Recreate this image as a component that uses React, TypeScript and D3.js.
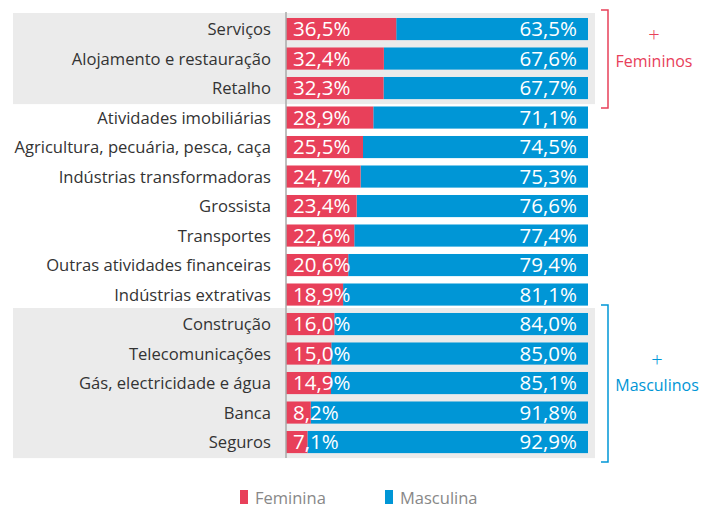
import { useEffect, useRef } from 'react';
import * as d3 from 'd3';

const categories = [
	'Serviços',
	'Alojamento e restauração',
	'Retalho',
	'Atividades imobiliárias',
	'Agricultura, pecuária, pesca, caça',
	'Indústrias transformadoras',
	'Grossista',
	'Transportes',
	'Outras atividades financeiras',
	'Indústrias extrativas',
	'Construção',
	'Telecomunicações',
	'Gás, electricidade e água',
	'Banca',
	'Seguros',
];
const feminina = [36.5, 32.4, 32.3, 28.9, 25.5, 24.7, 23.4, 22.6, 20.6, 18.9, 16.0, 15.0, 14.9, 8.2, 7.1];
const masculina = [63.5, 67.6, 67.7, 71.1, 74.5, 75.3, 76.6, 77.4, 79.4, 81.1, 84.0, 85.0, 85.1, 91.8, 92.9];
const seriesNames = ['Feminina', 'Masculina'];
const groups = [
	{ from: 0, to: 2, label: 'Femininos', color: '#e8405a', cx: 654 },
	{ from: 10, to: 14, label: 'Masculinos', color: '#0096d6', cx: 657 },
];

const RED = '#e8405a';
const BLUE = '#0096d6';
const FONT = '"Open Sans", sans-serif';

const App: React.FC = () => {
	const ref = useRef<SVGSVGElement>(null);

	useEffect(() => {
		if (!ref.current) return;
		const svg = d3.select(ref.current);
		svg.selectAll('*').remove();

		const x = d3.scaleLinear().domain([0, 100]).range([286, 588]);
		const y = d3
			.scaleBand<string>()
			.domain(categories)
			.range([14.3, 456.8])
			.paddingInner(0.25)
			.paddingOuter(0.125);
		const bw = y.bandwidth();

		// grey highlight bands
		groups.forEach((gr) => {
			const top = (y(categories[gr.from]) ?? 0) - 5;
			const bottom = (y(categories[gr.to]) ?? 0) + bw + 5;
			svg.append('rect')
				.attr('x', 13)
				.attr('y', top)
				.attr('width', 595 - 13)
				.attr('height', bottom - top)
				.attr('fill', '#ebebeb');
		});

		const rows = svg
			.append('g')
			.selectAll('g')
			.data(categories)
			.join('g')
			.attr('transform', (d) => `translate(0, ${y(d)})`);

		rows.append('rect')
			.attr('x', (_, i) => x(feminina[i]))
			.attr('width', (_, i) => x(100) - x(feminina[i]))
			.attr('height', bw)
			.attr('fill', BLUE);

		rows.append('rect')
			.attr('x', x(0))
			.attr('width', (_, i) => x(feminina[i]) - x(0))
			.attr('height', bw)
			.attr('fill', RED);

		const fmt = (v: number) => v.toFixed(1).replace('.', ',') + '%';

		rows.append('text')
			.attr('x', x(0) + 7)
			.attr('y', bw / 2)
			.attr('dy', '0.36em')
			.style('font-family', FONT)
			.style('font-size', '20.5px')
			.style('fill', '#fff')
			.text((_, i) => fmt(feminina[i]));

		rows.append('text')
			.attr('x', x(100) - 11)
			.attr('y', bw / 2)
			.attr('dy', '0.36em')
			.attr('text-anchor', 'end')
			.style('font-family', FONT)
			.style('font-size', '20.5px')
			.style('fill', '#fff')
			.text((_, i) => fmt(masculina[i]));

		rows.append('text')
			.attr('x', 271)
			.attr('y', bw / 2)
			.attr('dy', '0.36em')
			.attr('text-anchor', 'end')
			.style('font-family', FONT)
			.style('font-size', '16.6px')
			.style('fill', '#333')
			.text((d) => d);

		// axis line
		svg.append('line')
			.attr('x1', x(0))
			.attr('x2', x(0))
			.attr('y1', 12)
			.attr('y2', 458)
			.attr('stroke', '#aaa')
			.attr('stroke-width', 1.5);

		// brackets
		groups.forEach((gr) => {
			const top = (y(categories[gr.from]) ?? 0) - 8;
			const bottom = (y(categories[gr.to]) ?? 0) + bw + 9;
			const bx = 608;
			svg.append('path')
				.attr('d', `M${bx - 7},${top}H${bx}V${bottom}H${bx - 7}`)
				.attr('fill', 'none')
				.attr('stroke', gr.color)
				.attr('stroke-width', 1.5);
			const mid = (top + bottom) / 2;
			svg.append('text')
				.attr('x', gr.cx)
				.attr('y', mid - 17)
				.attr('text-anchor', 'middle')
				.style('font-family', FONT)
				.style('font-size', '20px')
				.style('font-weight', 300)
				.style('fill', gr.color)
				.text('+');
			svg.append('text')
				.attr('x', gr.cx)
				.attr('y', mid + 7.5)
				.attr('text-anchor', 'middle')
				.style('font-family', FONT)
				.style('font-size', '16px')
				.style('fill', gr.color)
				.text(gr.label);
		});

		// legend
		const legend = svg
			.append('g')
			.selectAll('g')
			.data(seriesNames)
			.join('g')
			.attr('transform', (_, i) => `translate(${i === 0 ? 240 : 385}, 490)`);
		legend.append('rect')
			.attr('width', 8)
			.attr('height', 14)
			.attr('fill', (_, i) => (i === 0 ? RED : BLUE));
		legend.append('text')
			.attr('x', 15)
			.attr('y', 13.5)
			.style('font-family', FONT)
			.style('font-size', '16.5px')
			.style('fill', '#888')
			.text((d) => d);
	}, []);

	return (
		<svg
			ref={ref}
			width={713}
			height={507}
			style={{ position: 'absolute', left: 0, top: 0, background: '#fff' }}
		></svg>
	);
};

export default App;
